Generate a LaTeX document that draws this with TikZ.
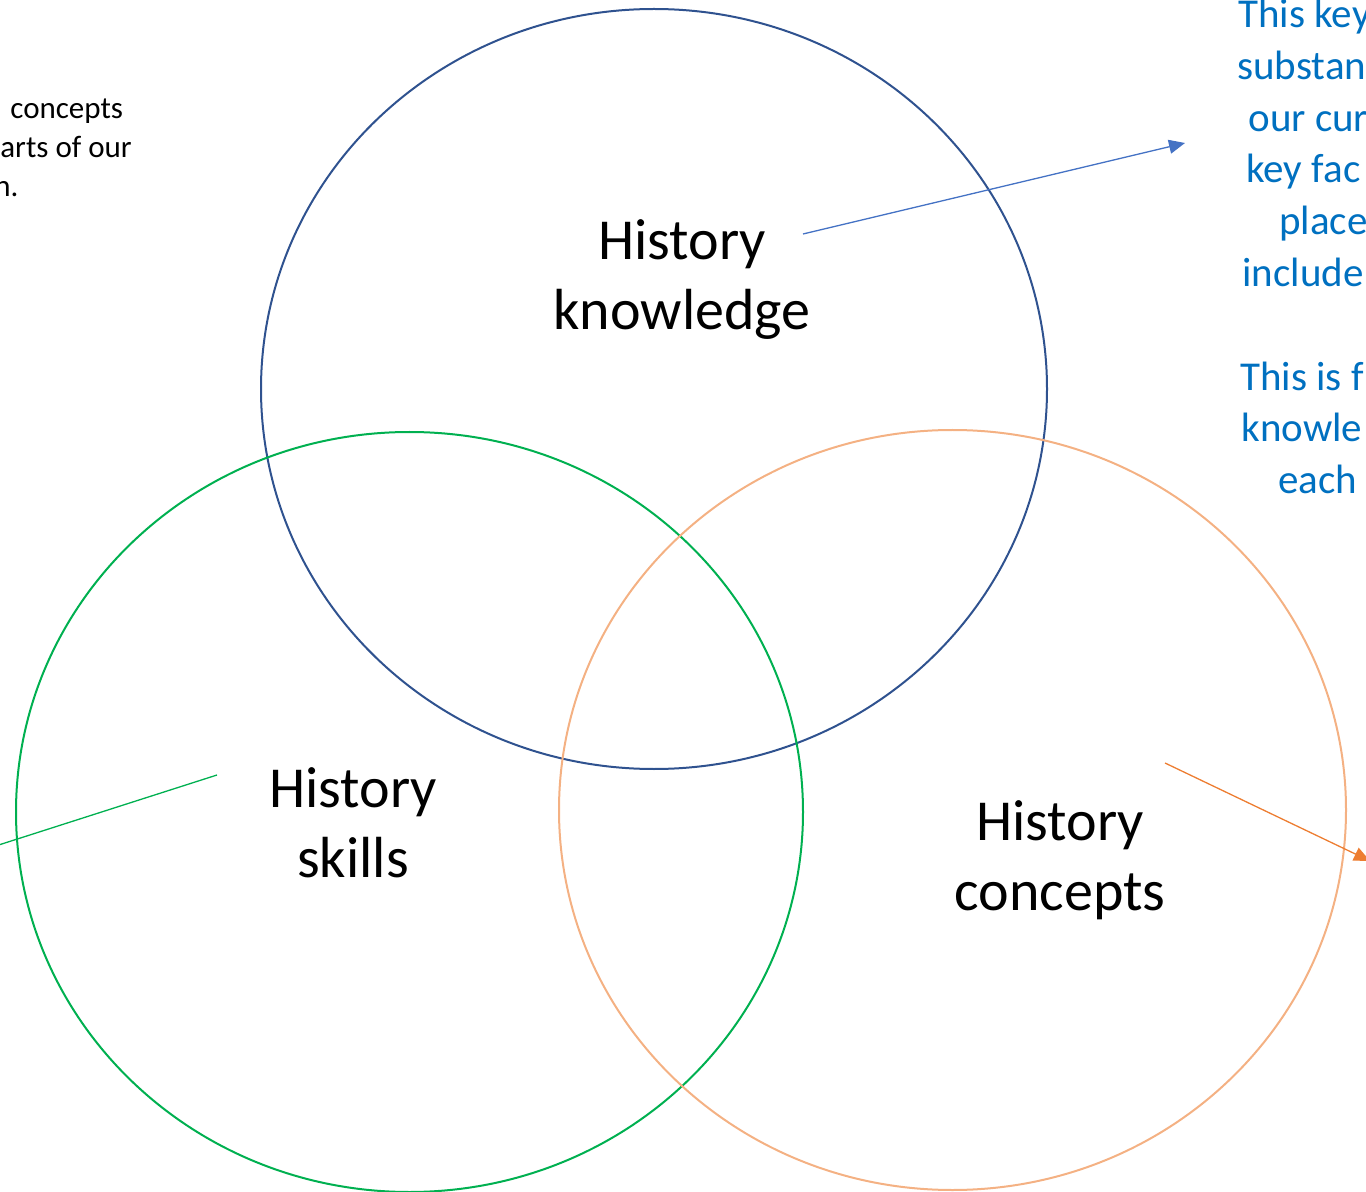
\documentclass[tikz,border=0pt]{standalone}
\usepackage{fontspec}
\setmainfont{Carlito}
\usetikzlibrary{arrows.meta}
\definecolor{knowblue}{RGB}{47,82,143}
\definecolor{skillgreen}{RGB}{0,176,80}
\definecolor{concorange}{RGB}{244,177,131}
\definecolor{arrowblue}{RGB}{68,114,196}
\definecolor{arroworange}{RGB}{237,125,49}
\definecolor{noteblue}{RGB}{0,112,192}
\tikzset{
    venn/.style={line width=1pt},
    vennlabel/.style={font=\fontsize{29}{35}\selectfont, align=center, text=black, inner sep=0pt},
    sidenote/.style={anchor=base west, inner sep=0pt, text=noteblue, font=\fontsize{20.5}{26}\selectfont},
    leftnote/.style={anchor=base west, inner sep=0pt, text=black, font=\fontsize{15.5}{19.5}\selectfont},
    pointer/.style={line width=0.65pt, -{Triangle[length=8pt,width=7pt]}},
}
\begin{document}
\begin{tikzpicture}[x=0.5pt,y=-0.5pt]
    \useasboundingbox (0,0) rectangle (1366,1192);
    \clip (0,0) rectangle (1366,1192);
    % the three circles
    \draw[venn, knowblue] (654,389) ellipse [x radius=393, y radius=380];
    \draw[venn, skillgreen] (409.5,812) ellipse [x radius=393.5, y radius=380];
    \draw[venn, concorange] (952.5,810) ellipse [x radius=393.5, y radius=380];
    % labels
    \node[vennlabel] (know) at (682,280) {History\\knowledge};
    \node[vennlabel] (skill) at (353,823) {History\\skills};
    \node[vennlabel] (conc) at (1060,860) {History\\concepts};
    % notes cut by the page edge
    \foreach \x/\y/\t [count=\i] in {10/119/concepts, 0/158/arts of our, -6/197/n.}
        \node[leftnote] (left\i) at (\x,\y) {\t};
    \foreach \x/\y/\t [count=\i] in {1238/28/This key, 1237/80/substan, 1248/132/our cur,
            1246/183/key fac, 1279/235/place, 1242/287/include,
            1240/391/This is f, 1241/442/knowle, 1278/494/each}
        \node[sidenote] (side\i) at (\x,\y) {\t};
    % pointers
    \coordinate (knowfrom) at (803,234);
    \coordinate (knowto) at (1185,143);
    \coordinate (skillfrom) at (217,775);
    \coordinate (skillto) at (-70,867);
    \coordinate (concfrom) at (1165,763);
    \coordinate (concto) at (1370,861);
    \draw[pointer, arrowblue] (knowfrom) -- (knowto);
    \draw[pointer, skillgreen] (skillfrom) -- (skillto);
    \draw[pointer, arroworange] (concfrom) -- (concto);
\end{tikzpicture}
\end{document}
